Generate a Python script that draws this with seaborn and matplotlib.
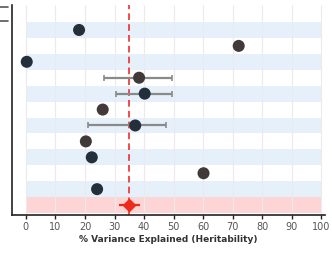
import matplotlib
matplotlib.use("Agg")
import matplotlib.pyplot as plt
from matplotlib.lines import Line2D
import seaborn as sns
import pandas as pd
import numpy as np

# ---- data ----
rows = list(range(1, 12))                      # study rows (row 0 is empty header row)
heritability = [18, 72, 0.3, 38.3, 40.2, 26, 37, 20.3, 22.3, 60.1, 24.1]
ci_low = [np.nan, np.nan, np.nan, 26.4, 30.6, np.nan, 21.0, np.nan, np.nan, np.nan, np.nan]
ci_high = [np.nan, np.nan, np.nan, 49.3, 49.3, np.nan, 47.3, np.nan, np.nan, np.nan, np.nan]
group = ["a", "b", "a", "b", "a", "b", "a", "b", "a", "b", "a"]
pooled_row = 12
pooled_est = 35.0
pooled_low = 31.5
pooled_high = 38.5
xticks = [0, 10, 20, 30, 40, 50, 60, 70, 80, 90, 100]

df = pd.DataFrame({"row": rows, "h2": heritability, "lo": ci_low,
                   "hi": ci_high, "group": group})

sns.set_theme(style="white")
plt.rcParams['font.family'] = ['DejaVu Sans']

fig = plt.figure(figsize=(3.32, 2.62), dpi=100)
ax = fig.add_axes([0.036, 0.179, 0.943, 0.802])

# alternating bands
for r in range(0, 13):
    if r == pooled_row:
        col = "#fdd5d5"
    elif r % 2 == 1:
        col = "#e6f0fa"
    else:
        continue
    ax.fill_between([0, 100], r - 0.5, r + 0.5, color=col, lw=0, zorder=0)

# grid
for x in xticks:
    ax.axvline(x, color="#ebebeb", lw=0.8, zorder=0.5)

# error bars for studies
sub = df.dropna()
ax.errorbar(sub["h2"], sub["row"],
            xerr=[sub["h2"] - sub["lo"], sub["hi"] - sub["h2"]],
            fmt="none", ecolor="#8a8a8a", elinewidth=1.6, capsize=2.5,
            capthick=1.2, zorder=2)

# points
sns.scatterplot(data=df, x="h2", y="row", hue="group",
                palette={"a": "#23303b", "b": "#413a38"},
                s=75, edgecolor="none", legend=False, ax=ax, zorder=3)

# pooled
ax.axvline(pooled_est, color="#f02c2c", lw=1.2, ls=(0, (4, 2.5)), zorder=1.5)
ax.errorbar([pooled_est], [pooled_row],
            xerr=[[pooled_est - pooled_low], [pooled_high - pooled_est]],
            fmt="D", color="#ee2a1a", ms=6.5, elinewidth=1.6, capsize=0, zorder=4)

ax.set_xlim(-4.7, 101.2)
ax.set_ylim(12.63, -0.57)
ax.set_xticks(xticks)
ax.set_yticks([])
ax.set_xlabel("% Variance Explained (Heritability)", fontsize=6.5,
              fontweight="bold", color="#333333", labelpad=2)
ax.set_ylabel("")
ax.tick_params(axis="x", length=3, width=1, color="#222222",
               labelsize=7, labelcolor="#555555", pad=2, direction="out",
               bottom=True)
for s in ["top", "right"]:
    ax.spines[s].set_visible(False)
for s in ["left", "bottom"]:
    ax.spines[s].set_color("#222222")
    ax.spines[s].set_linewidth(1.2)

# small marks at upper left (cut-off label remnants)
for yp in (7, 21):
    fy = 1 - yp / 262
    fig.add_artist(Line2D([0.0, 8 / 332], [fy, fy], color="#555555", lw=1.2))

fig.savefig("out.png", dpi=100)
